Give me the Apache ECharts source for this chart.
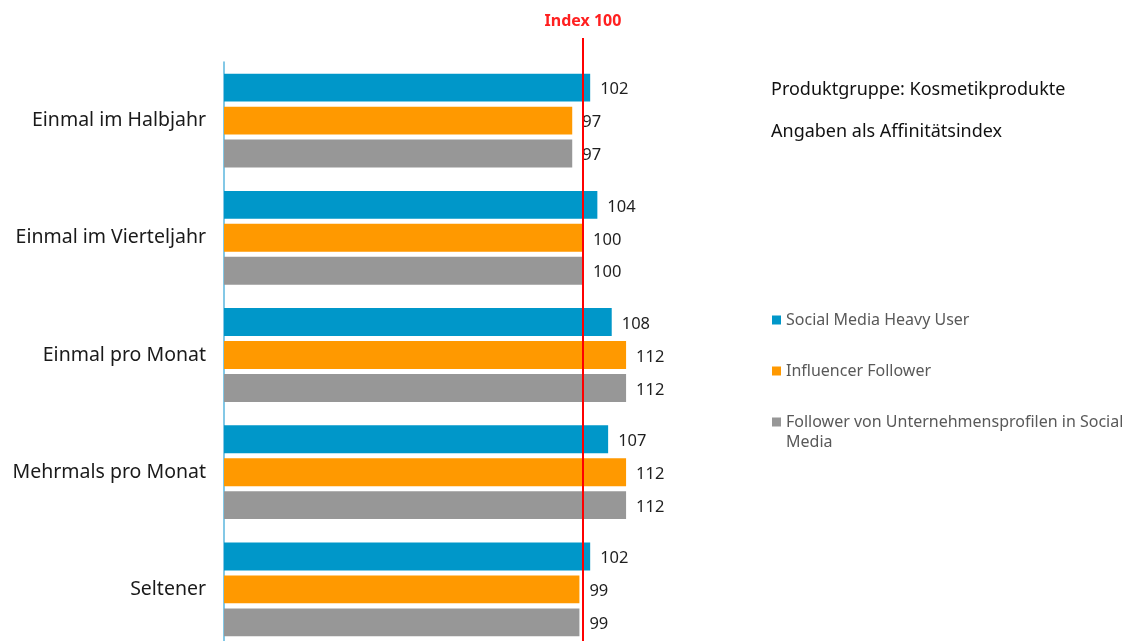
<!DOCTYPE html>
<html>
<head>
<meta charset="utf-8">
<script src="https://cdn.jsdelivr.net/npm/echarts@6/dist/echarts.min.js"></script>
<style>
  html, body { margin: 0; padding: 0; background: #ffffff; overflow: hidden; }
  #chart { width: 1140px; height: 660px; }
</style>
</head>
<body>
<div id="chart"></div>
<script>
const CATEGORIES = ['Einmal im Halbjahr', 'Einmal im Vierteljahr', 'Einmal pro Monat', 'Mehrmals pro Monat', 'Seltener'];
const SERIES_NAMES = ['Social Media Heavy User', 'Influencer Follower', 'Follower von Unternehmensprofilen in Social Media'];
const HEAVY_USER = [102, 104, 108, 107, 102];
const INFLUENCER = [97, 100, 112, 112, 99];
const FIRM_FOLLOWER = [97, 100, 112, 112, 99];
const INDEX_LINE = 100;
const TITLE_LINES = ['Produktgruppe: Kosmetikprodukte', 'Angaben als Affinitätsindex'];

const COLORS = ['#0097c9', '#ff9900', '#979797'];
const FONT = '"Noto Sans", sans-serif';
const X_MAX = 120;
// 3.59 px per index point, axis starts at x = 224
const GRID_WIDTH = 3.59 * X_MAX;

const chart = echarts.init(document.getElementById('chart'), null, { renderer: 'canvas' });

const valueLabel = {
  show: true,
  position: 'right',
  distance: 10,
  offset: [0, 2],
  color: '#1f1f1f',
  fontSize: 16.5,
  fontFamily: FONT
};

function barSeries(name, data, color) {
  return {
    name,
    type: 'bar',
    xAxisIndex: 0,
    yAxisIndex: 0,
    data,
    barGap: '18%',
    barCategoryGap: '20%',
    itemStyle: { color },
    label: valueLabel,
    emphasis: { disabled: true }
  };
}

const legendText = { fontFamily: FONT, fontSize: 16, color: '#595959' };

const option = {
  animation: false,
  backgroundColor: '#ffffff',
  title: [
    { text: TITLE_LINES[0], left: 771, top: 81, padding: 0, textStyle: { fontFamily: FONT, fontSize: 18, fontWeight: 'normal', color: '#111111' } },
    { text: TITLE_LINES[1], left: 771, top: 123, padding: 0, textStyle: { fontFamily: FONT, fontSize: 18, fontWeight: 'normal', color: '#111111' } }
  ],
  legend: [
    {
      orient: 'vertical',
      left: 772,
      top: 312,
      padding: 0,
      itemWidth: 9,
      itemHeight: 9,
      itemGap: 35,
      icon: 'rect',
      selectedMode: false,
      textStyle: Object.assign({ lineHeight: 16 }, legendText),
      data: [SERIES_NAMES[0], SERIES_NAMES[1]]
    },
    {
      orient: 'vertical',
      left: 772,
      top: 392,
      padding: 0,
      itemWidth: 9,
      itemHeight: 9,
      icon: 'rect',
      selectedMode: false,
      textStyle: Object.assign({ lineHeight: 20 }, legendText),
      data: [SERIES_NAMES[2]],
      // wrap like the original; the empty first line keeps the icon on the first text line
      formatter: () => '\nFollower von Unternehmensprofilen in Social\nMedia'
    }
  ],
  grid: [
    { left: 224, top: 62, width: GRID_WIDTH, height: 586 },
    { left: 224, top: 38, width: GRID_WIDTH, height: 612 }
  ],
  xAxis: [
    { type: 'value', gridIndex: 0, min: 0, max: X_MAX, show: false },
    { type: 'value', gridIndex: 1, min: 0, max: X_MAX, show: false }
  ],
  yAxis: [
    {
      type: 'category',
      gridIndex: 0,
      inverse: true,
      data: CATEGORIES,
      axisLine: { show: true, lineStyle: { color: '#5ab6de', width: 1.5 } },
      axisTick: { show: false },
      axisLabel: { color: '#1a1a1a', fontSize: 19.5, fontFamily: FONT, margin: 18 },
      splitLine: { show: false }
    },
    { type: 'value', gridIndex: 1, min: 0, max: 1, show: false }
  ],
  series: [
    barSeries(SERIES_NAMES[0], HEAVY_USER, COLORS[0]),
    barSeries(SERIES_NAMES[1], INFLUENCER, COLORS[1]),
    barSeries(SERIES_NAMES[2], FIRM_FOLLOWER, COLORS[2]),
    {
      name: 'Index',
      type: 'line',
      xAxisIndex: 1,
      yAxisIndex: 1,
      data: [],
      silent: true,
      markLine: {
        silent: true,
        symbol: 'none',
        animation: false,
        lineStyle: { color: '#ff0000', type: 'solid', width: 2 },
        label: {
          show: true,
          position: 'end',
          distance: 9,
          formatter: 'Index 100',
          color: '#ff2020',
          fontSize: 16,
          fontWeight: 'bold',
          fontFamily: FONT
        },
        data: [{ xAxis: INDEX_LINE }]
      }
    }
  ]
};

chart.setOption(option);
</script>
</body>
</html>
